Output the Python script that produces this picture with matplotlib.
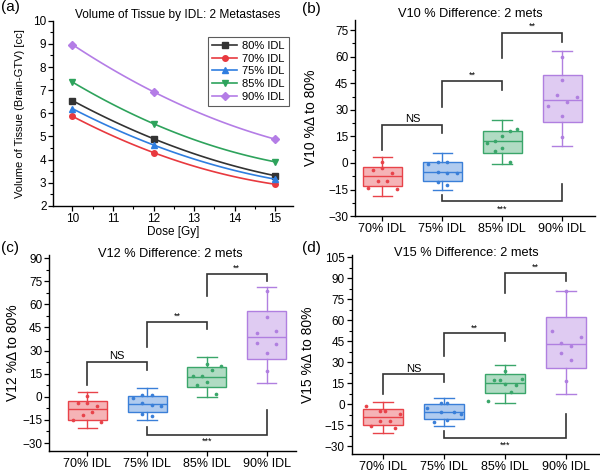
import numpy as np
import matplotlib.pyplot as plt
from matplotlib.colors import to_rgba
from matplotlib.ticker import AutoMinorLocator, MultipleLocator

plt.rcParams['font.family'] = ['Liberation Sans', 'DejaVu Sans']
plt.rcParams['axes.linewidth'] = 1.0

# ---- panel (a): volume of tissue vs dose
dose = [10, 12, 15]
line_labels = ['80% IDL', '70% IDL', '75% IDL', '85% IDL', '90% IDL']
vol_80 = [6.55, 4.90, 3.30]
vol_70 = [5.87, 4.30, 2.93]
vol_75 = [6.20, 4.63, 3.15]
vol_85 = [7.35, 5.55, 3.90]
vol_90 = [8.97, 6.93, 4.88]

# ---- panels (b)-(d): % difference to 80% IDL
groups = ['70% IDL', '75% IDL', '85% IDL', '90% IDL']

# box stats per group: (whisker low, q1, median, q3, whisker high)
v10_box = [(-18.8, -13.2, -7.6, -2.0, 3.5),
           (-15.0, -9.9, -5.2, 0.4, 5.4),
           (-0.7, 5.4, 12.3, 17.8, 24.0),
           (9.7, 23.4, 35.7, 49.6, 63.0)]
v10_pts = [[-3.9, 0.4, -2.6, -5.4, -10.0, -10.0, -14.3, -14.7],
           [-0.6, 0.7, 0.4, -4.8, -5.4, -5.8, -10.6, -12.6],
           [19.3, 17.8, 15.4, 11.5, 12.3, 8.2, 6.5, 0.6],
           [59.8, 47.0, 38.5, 37.0, 34.2, 32.3, 26.8, 14.9]]
v10_jit = [[-0.16, 0, 0, 0.16, -0.08, 0.08, -0.24, 0.24],
           [-0.24, -0.08, 0.08, -0.08, 0.08, 0.24, -0.08, 0.08],
           [0.25, 0.13, 0, -0.25, -0.13, 0, -0.13, 0.13],
           [0, 0, -0.08, 0.24, 0.08, -0.24, 0, 0]]

v12_box = [(-20.0, -14.8, -7.6, -2.6, 3.3),
           (-15.2, -10.0, -4.6, 0.2, 5.4),
           (0.0, 6.5, 13.0, 19.6, 26.1),
           (8.7, 24.3, 38.5, 55.4, 71.0)]
v12_pts = [[-3.9, 0.4, -3.9, -6.1, -10.0, -12.0, -14.8, -16.1],
           [-1.1, 1.3, 0.9, -3.9, -5.5, -6.1, -11.1, -12.6],
           [21.0, 17.6, 20.0, 13.2, 13.2, 9.8, 7.6, 2.0],
           [68.5, 51.5, 41.7, 42.4, 35.2, 34.3, 28.7, 16.7]]
v12_jit = [[-0.16, 0, 0, 0.16, 0.07, -0.08, -0.24, 0.23],
           [-0.23, -0.08, 0.08, -0.08, 0.08, 0.24, -0.08, 0.08],
           [0, 0.08, 0.24, -0.24, -0.08, 0, -0.16, 0.16],
           [0, 0, -0.16, 0.16, -0.16, 0.16, 0, 0]]

v15_box = [(-20.2, -14.8, -9.0, -3.6, 1.9),
           (-15.5, -10.7, -5.5, 0.0, 4.8),
           (0.9, 7.9, 15.5, 21.4, 28.3),
           (7.1, 25.7, 42.9, 62.1, 81.0)]
v15_pts = [[-1.2, -5.0, -5.0, -6.7, -11.9, -11.9, -15.5, -16.9],
           [-2.6, 0.7, 1.2, -5.5, -5.5, -6.7, -11.2, -12.6],
           [23.6, 17.1, 17.6, 18.3, 14.3, 13.8, 8.8, 2.1],
           [80.9, 52.4, 47.9, 43.8, 41.9, 36.9, 31.6, 16.7]]
v15_jit = [[-0.28, -0.04, 0.04, 0.28, 0.12, -0.04, -0.2, 0.2],
           [-0.27, -0.05, 0.05, -0.05, 0.16, 0.27, 0.05, -0.16],
           [0, -0.18, -0.09, 0.27, 0, 0.18, 0.09, -0.28],
           [0, -0.24, 0.24, -0.08, 0.08, -0.08, 0.08, 0]]

# significance brackets: (group i, group j, left leg end, bar, right leg end, label, label y)
v10_sig = [(0, 1, 7.3, 21.4, 16.7, 'NS', 25.0),
           (1, 2, 31.7, 46.1, 41.0, '**', 49.5),
           (2, 3, 59.4, 73.3, 68.2, '**', 77.0),
           (1, 3, -18.0, -21.6, -11.8, '***', -26.0)]
v12_sig = [(0, 1, 7.6, 22.8, 17.2, 'NS', 26.5),
           (1, 2, 32.4, 48.7, 43.7, '**', 52.5),
           (2, 3, 65.2, 79.8, 74.8, '**', 83.5),
           (1, 3, -19.6, -24.6, -8.7, '***', -29.0)]
v15_sig = [(0, 1, 7.1, 21.4, 15.9, 'NS', 25.4),
           (1, 2, 34.4, 50.8, 45.1, '**', 54.5),
           (2, 3, 79.5, 93.3, 87.8, '**', 97.5),
           (1, 3, -19.0, -24.2, -7.1, '***', -29.0)]

line_colors = ['#333333', '#e8393f', '#2f7ee0', '#2ea35c', '#b47de6']
line_markers = ['s', 'o', '^', 'v', 'D']
box_colors = ['#e8434a', '#3a7fd8', '#3aa66a', '#b07fe0']

W, H = 600, 473
fig = plt.figure(figsize=(W / 100, H / 100), dpi=100)


def style_axes(ax):
    ax.spines['top'].set_visible(False)
    ax.spines['right'].set_visible(False)
    ax.tick_params(which='major', direction='out', length=3.5, width=0.9,
                   labelsize=8.5, pad=1.5)
    ax.tick_params(which='minor', direction='out', length=2, width=0.8)


def ftext(x, y, s, **kw):
    # x, y in pixels from top-left
    fig.text(x / W, 1 - y / H, s, ha=kw.pop('ha', 'center'), va='center', **kw)


# ---------- (a)
ax = fig.add_axes([0.089, 0.565, 0.40, 0.391])
series = [vol_80, vol_70, vol_75, vol_85, vol_90]
xs = np.linspace(dose[0], dose[-1], 100)
for vals, lab, col, mk in zip(series, line_labels, line_colors, line_markers):
    coef = np.polyfit(dose, vals, 2)
    ax.plot(xs, np.polyval(coef, xs), color=col, lw=1.2)
    ax.plot(dose, vals, ls='none', marker=mk, color=col, ms=4)
    ax.plot([], [], color=col, lw=1.2, marker=mk, ms=4, label=lab)
ax.set_xlim(9.53, 15.45)
ax.set_ylim(2, 10)
ax.xaxis.set_major_locator(MultipleLocator(1))
ax.xaxis.set_minor_locator(AutoMinorLocator(2))
ax.yaxis.set_major_locator(MultipleLocator(1))
ax.yaxis.set_minor_locator(AutoMinorLocator(2))
style_axes(ax)
ax.set_xlabel('Dose [Gy]', fontsize=8.5, labelpad=1)
ax.set_ylabel('Volume of Tissue (Brain-GTV) [cc]', fontsize=8)
ax.yaxis.set_label_coords(-0.118, 0.5)
leg = ax.legend(loc='upper right', bbox_to_anchor=(0.99, 0.925), fontsize=8,
                frameon=True, fancybox=False, edgecolor='#333333',
                handlelength=2.2, borderpad=0.35, labelspacing=0.25,
                handletextpad=0.5, borderaxespad=0.2)
leg.get_frame().set_linewidth(0.8)
ftext(178, 15, 'Volume of Tissue by IDL: 2 Metastases', fontsize=8.6)
ftext(1, 7, '(a)', fontsize=11, ha='left')


# ---------- box panels
def box_panel(rect, box, pts, jit, sig, ylim, xlim, yticks, ylabel, ylab_x,
              title, title_xy, tag, tag_xy):
    ax = fig.add_axes(rect)
    pos = np.arange(1, len(groups) + 1)
    for i, (lo, q1, med, q3, hi) in enumerate(box):
        c = box_colors[i]
        st = dict(whislo=lo, q1=q1, med=med, q3=q3, whishi=hi, fliers=[])
        ax.bxp([st], positions=[pos[i]], widths=0.65, patch_artist=True,
               showfliers=False,
               boxprops=dict(facecolor=to_rgba(c, 0.4), edgecolor=c, linewidth=1.0),
               medianprops=dict(color=c, linewidth=1.0),
               whiskerprops=dict(color=c, linewidth=1.0),
               capprops=dict(color=c, linewidth=1.0),
               capwidths=0.33)
        ax.scatter(pos[i] + np.array(jit[i]), pts[i], s=7, color=c, zorder=3,
                   linewidths=0)
    for (i, j, l_end, bar, r_end, lab, ly) in sig:
        x1, x2 = pos[i], pos[j]
        ax.plot([x1, x1, x2, x2], [l_end, bar, bar, r_end], color='#333333',
                lw=1.2, solid_joinstyle='miter')
        fs = 8 if lab == 'NS' else 6.5
        ax.text((x1 + x2) / 2, ly, lab, ha='center', va='center', fontsize=fs)
    ax.set_xlim(*xlim)
    ax.set_ylim(*ylim)
    ax.set_xticks(pos)
    ax.set_xticklabels(groups)
    ax.set_yticks(yticks)
    ax.yaxis.set_minor_locator(AutoMinorLocator(2))
    style_axes(ax)
    ax.tick_params(axis='x', labelsize=9)
    ax.set_ylabel(ylabel, fontsize=10)
    ax.yaxis.set_label_coords(ylab_x, 0.5)
    ftext(title_xy[0], title_xy[1], title, fontsize=9.2)
    ftext(tag_xy[0], tag_xy[1], tag, fontsize=11, ha='left')


box_panel([0.592, 0.543, 0.400, 0.414], v10_box, v10_pts, v10_jit, v10_sig,
          (-30, 80.5), (0.545, 4.55), np.arange(-30, 76, 15),
          'V10 %Δ to 80%', -0.153, 'V10 % Difference: 2 mets', (470, 14),
          '(b)', (302, 9))
box_panel([0.082, 0.047, 0.412, 0.414], v12_box, v12_pts, v12_jit, v12_sig,
          (-35, 92), (0.36, 4.5), np.arange(-30, 91, 15),
          'V12 %Δ to 80%', -0.119, 'V12 % Difference: 2 mets', (170, 254),
          '(c)', (1, 248))
box_panel([0.586, 0.040, 0.413, 0.421], v15_box, v15_pts, v15_jit, v15_sig,
          (-35.5, 106.5), (0.49, 4.54), np.arange(-30, 106, 15),
          'V15 %Δ to 80%', -0.148, 'V15 % Difference: 2 mets', (466, 253),
          '(d)', (302, 248))

fig.savefig('out.png', dpi=100)
